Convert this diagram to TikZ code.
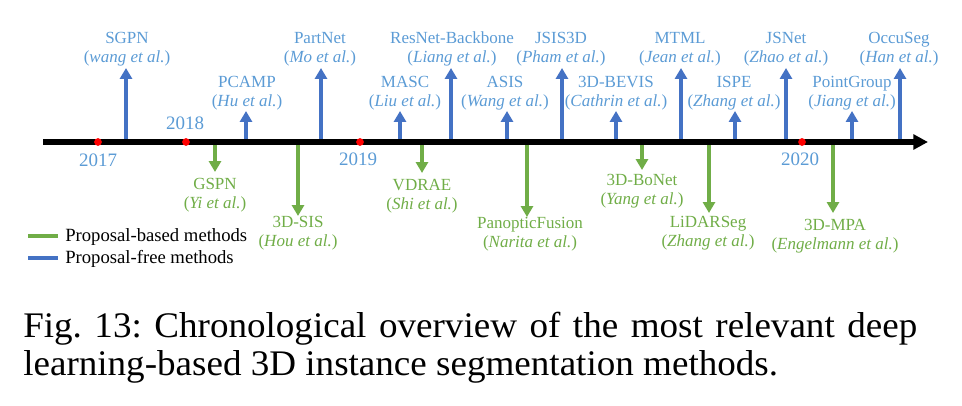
\documentclass[tikz,border=0pt]{standalone}
\usepackage{fontspec}
\setmainfont{Liberation Serif}
\newfontfamily\capfont[FakeStretch=1.03]{Liberation Serif}
\usetikzlibrary{arrows.meta}
\definecolor{arrblue}{HTML}{4472C4}
\definecolor{arrgreen}{HTML}{70AD47}
\definecolor{txtblue}{HTML}{5B9BD5}
\definecolor{txtgreen}{HTML}{70AD47}
\begin{document}
\begin{tikzpicture}[x=0.75pt,y=-0.75pt,
  lbl/.style={font=\fontsize{12.75}{15}\selectfont, inner sep=0pt, anchor=base},
  bl/.style={lbl, text=txtblue},
  gl/.style={lbl, text=txtgreen},
  freearrow/.style={draw=arrblue, line width=3.3pt, -{Triangle[length=8.2pt,width=9pt]}},
  basedarrow/.style={draw=arrgreen, line width=3.3pt, -{Triangle[length=8.2pt,width=9pt]}},
  yearlbl/.style={font=\fontsize{14.25}{16}\selectfont, text=txtblue, inner sep=0pt, anchor=base},
  yeardot/.style={circle, fill=red, inner sep=0pt, minimum size=5.8pt},
  legtext/.style={font=\fontsize{14}{16}\selectfont, inner sep=0pt, anchor=base west},
  captext/.style={font=\capfont\fontsize{27}{32}\selectfont\frenchspacing, inner sep=0pt, anchor=base west},
]
\useasboundingbox (0,0) rectangle (962,406);

% proposal-free methods (blue, upward)
\foreach \n/\x/\t/\lx/\b/\name/\auth in {
  sgpn/126/68/127/44/SGPN/wang,
  pcamp/246/111/247/88/PCAMP/Hu,
  partnet/321/68/320/44/PartNet/Mo,
  masc/400/111/405/88/MASC/Liu,
  resnet/451/68/452/44/ResNet-Backbone/Liang,
  asis/507/111/505/88/ASIS/Wang,
  jsis/562/68/561/44/JSIS3D/Pham,
  bevis/616/111/616/88/3D-BEVIS/Cathrin,
  mtml/681/68/680/44/MTML/Jean,
  ispe/735/111/734/88/ISPE/Zhang,
  jsnet/786/68/786/44/JSNet/Zhao,
  pointgroup/852/111/852/88/PointGroup/Jiang,
  occuseg/900/68/899/44/OccuSeg/Han}{
  \coordinate (\n-s) at (\x,142);
  \coordinate (\n-e) at (\x,\t);
  \draw[freearrow] (\n-s) -- (\n-e);
  \node[bl] (\n-name) at (\lx,\b) {\name};
  \node[bl] (\n-auth) at (\lx,\b+19) {(\textit{\auth\ et al.})};
}

% proposal-based methods (green, downward)
\foreach \n/\x/\t/\lx/\b/\name/\auth in {
  gspn/215/172/215/189/GSPN/Yi,
  sis/298/216/298/227/3D-SIS/Hou,
  vdrae/422/173/422/190.5/VDRAE/Shi,
  panoptic/527/217/530/228/PanopticFusion/Narita,
  bonet/642/170/642/185/3D-BoNet/Yang,
  lidarseg/709/213/708/227/LiDARSeg/Zhang,
  mpa/833/213/835/230/3D-MPA/Engelmann}{
  \coordinate (\n-s) at (\x,142);
  \coordinate (\n-e) at (\x,\t);
  \draw[basedarrow] (\n-s) -- (\n-e);
  \node[gl] (\n-name) at (\lx,\b) {\name};
  \node[gl] (\n-auth) at (\lx,\b+19) {(\textit{\auth\ et al.})};
}

% timeline
\coordinate (tl-start) at (43,142);
\coordinate (tl-end) at (928,142);
\draw[line width=3.75pt, -{Triangle[length=11pt,width=11pt]}] (tl-start) -- (tl-end);

% years
\node[yeardot] (d2017) at (98,142) {};
\node[yeardot] (d2018) at (186,142) {};
\node[yeardot] (d2019) at (360,142) {};
\node[yeardot] (d2020) at (802,142) {};
\node[yearlbl] (y2017) at (98,166.5) {2017};
\node[yearlbl] (y2018) at (185,130) {2018};
\node[yearlbl] (y2019) at (358,166) {2019};
\node[yearlbl] (y2020) at (800,165) {2020};

% legend
\coordinate (lg1a) at (28,236);
\coordinate (lg1b) at (58,236);
\coordinate (lg2a) at (28,258);
\coordinate (lg2b) at (58,258);
\draw[arrgreen, line width=3.2pt] (lg1a) -- (lg1b);
\draw[arrblue, line width=3.2pt] (lg2a) -- (lg2b);
\node[legtext] (lg1t) at (65,241.7) {Proposal-based methods};
\node[legtext] (lg2t) at (65,263) {Proposal-free methods};

% caption
\node[captext] (cap1) at (23,337) {\makebox[670.5pt][s]{Fig. 13: Chronological overview of the most relevant deep}};
\node[captext] (cap2) at (23,375) {learning-based 3D instance segmentation methods.};
\end{tikzpicture}
\end{document}
